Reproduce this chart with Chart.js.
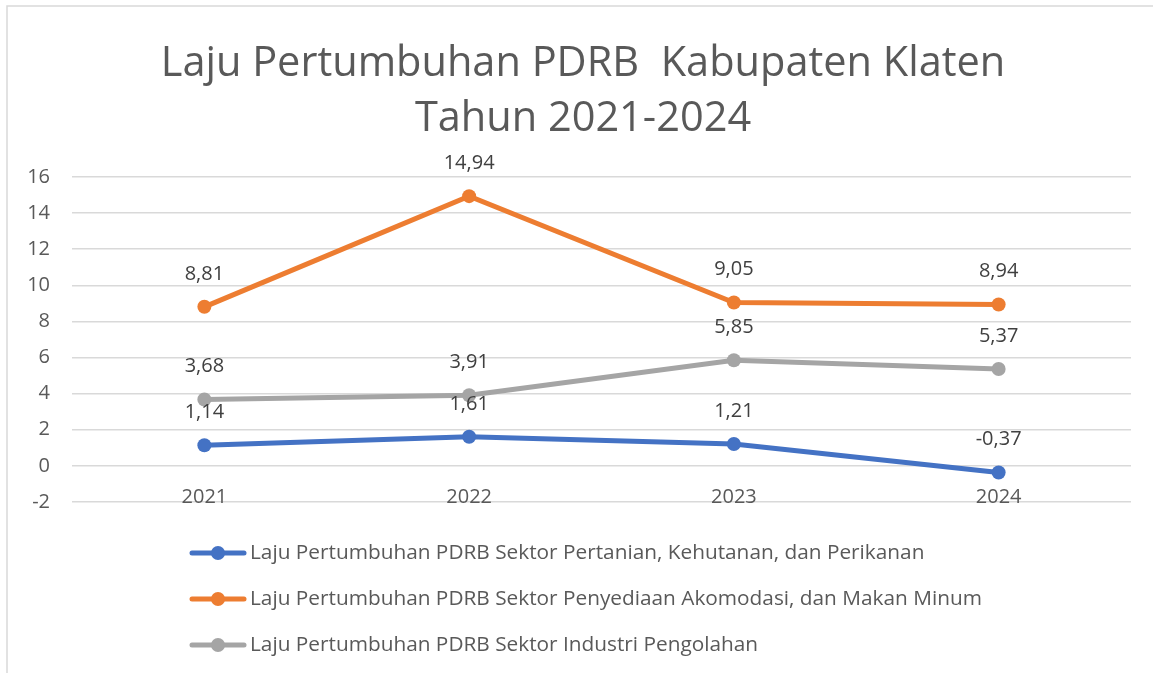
<!DOCTYPE html>
<html lang="id">
<head>
<meta charset="UTF-8">
<title>Laju Pertumbuhan PDRB Kabupaten Klaten</title>
<script src="https://cdn.jsdelivr.net/npm/chart.js"></script>
<style>
  body { margin: 0; background: #fff; }
  .wadah { position: relative; width: 1153px; height: 673px; }
</style>
</head>
<body>
<div class="wadah"><canvas id="grafik" width="1153" height="673"></canvas></div>
<script>
// data
const tahun = ['2021', '2022', '2023', '2024'];
const pertanian = [1.14, 1.61, 1.21, -0.37];
const akomodasi = [8.81, 14.94, 9.05, 8.94];
const industri = [3.68, 3.91, 5.85, 5.37];
const namaSeri = [
  'Laju Pertumbuhan PDRB Sektor Pertanian, Kehutanan, dan Perikanan',
  'Laju Pertumbuhan PDRB Sektor Penyediaan Akomodasi, dan Makan Minum',
  'Laju Pertumbuhan PDRB Sektor Industri Pengolahan'
];
const judul = ['Laju Pertumbuhan PDRB  Kabupaten Klaten', 'Tahun 2021-2024'];
const sumbuY = { min: -2, max: 16, step: 2 };

const warna = ['#4472c4', '#ed7d31', '#a5a5a5'];
const huruf = '"Open Sans", sans-serif';
const abu = '#595959';

function buatSeri(label, data, w) {
  return {
    label: label,
    data: data,
    borderColor: w,
    backgroundColor: w,
    borderWidth: 5,
    pointRadius: 7,
    pointHoverRadius: 7,
    pointBorderWidth: 0,
    pointBackgroundColor: w,
    tension: 0
  };
}

// bingkai, judul, label data dan legenda digambar sendiri
const hiasan = {
  id: 'hiasan',
  beforeDraw(chart) {
    const ctx = chart.ctx;
    ctx.save();
    ctx.strokeStyle = '#d9d9d9';
    ctx.lineWidth = 1.5;
    ctx.beginPath();
    ctx.moveTo(7, chart.height);
    ctx.lineTo(7, 6);
    ctx.lineTo(chart.width, 6);
    ctx.stroke();

    ctx.fillStyle = abu;
    ctx.font = '41.5px ' + huruf;
    ctx.textAlign = 'center';
    ctx.textBaseline = 'alphabetic';
    ctx.fillText(judul[0], 583, 76);
    ctx.fillText(judul[1], 583, 131);
    ctx.restore();
  },
  afterDatasetsDraw(chart) {
    const ctx = chart.ctx;
    ctx.save();
    ctx.fillStyle = '#404040';
    ctx.font = '20px ' + huruf;
    ctx.textAlign = 'center';
    ctx.textBaseline = 'middle';
    chart.data.datasets.forEach((ds, i) => {
      chart.getDatasetMeta(i).data.forEach((titik, j) => {
        ctx.fillText(ds.data[j].toFixed(2).replace('.', ','), titik.x, titik.y - 33);
      });
    });
    ctx.restore();
  },
  afterDraw(chart) {
    const ctx = chart.ctx;
    ctx.save();
    ctx.font = '20.8px ' + huruf;
    ctx.textBaseline = 'middle';
    ctx.textAlign = 'left';
    chart.data.datasets.forEach((ds, i) => {
      const y = 553 + i * 46;
      ctx.strokeStyle = ds.borderColor;
      ctx.lineWidth = 5;
      ctx.lineCap = 'round';
      ctx.beginPath();
      ctx.moveTo(192, y);
      ctx.lineTo(244, y);
      ctx.stroke();
      ctx.fillStyle = ds.borderColor;
      ctx.beginPath();
      ctx.arc(218, y, 7, 0, Math.PI * 2);
      ctx.fill();
      ctx.fillStyle = abu;
      ctx.fillText(ds.label, 250, y);
    });
    ctx.restore();
  }
};

new Chart(document.getElementById('grafik'), {
  type: 'line',
  data: {
    labels: tahun,
    datasets: [
      buatSeri(namaSeri[0], pertanian, warna[0]),
      buatSeri(namaSeri[1], akomodasi, warna[1]),
      buatSeri(namaSeri[2], industri, warna[2])
    ]
  },
  options: {
    responsive: false,
    devicePixelRatio: 1,
    animation: false,
    layout: { padding: { left: 7, right: 22, top: 177, bottom: 171 } },
    plugins: {
      legend: { display: false },
      title: { display: false },
      tooltip: { enabled: false }
    },
    scales: {
      x: {
        type: 'category',
        offset: true,
        position: { y: 0 },
        grid: { display: false },
        border: { display: false },
        ticks: { color: abu, font: { family: huruf, size: 20 }, padding: 11 }
      },
      y: {
        min: sumbuY.min,
        max: sumbuY.max,
        afterFit(scale) { scale.width = 65; },
        grid: { color: '#d9d9d9', lineWidth: 1.5, drawTicks: false },
        border: { display: false },
        ticks: { stepSize: sumbuY.step, color: abu, font: { family: huruf, size: 20 }, padding: 22 }
      }
    }
  },
  plugins: [hiasan]
});
</script>
</body>
</html>
